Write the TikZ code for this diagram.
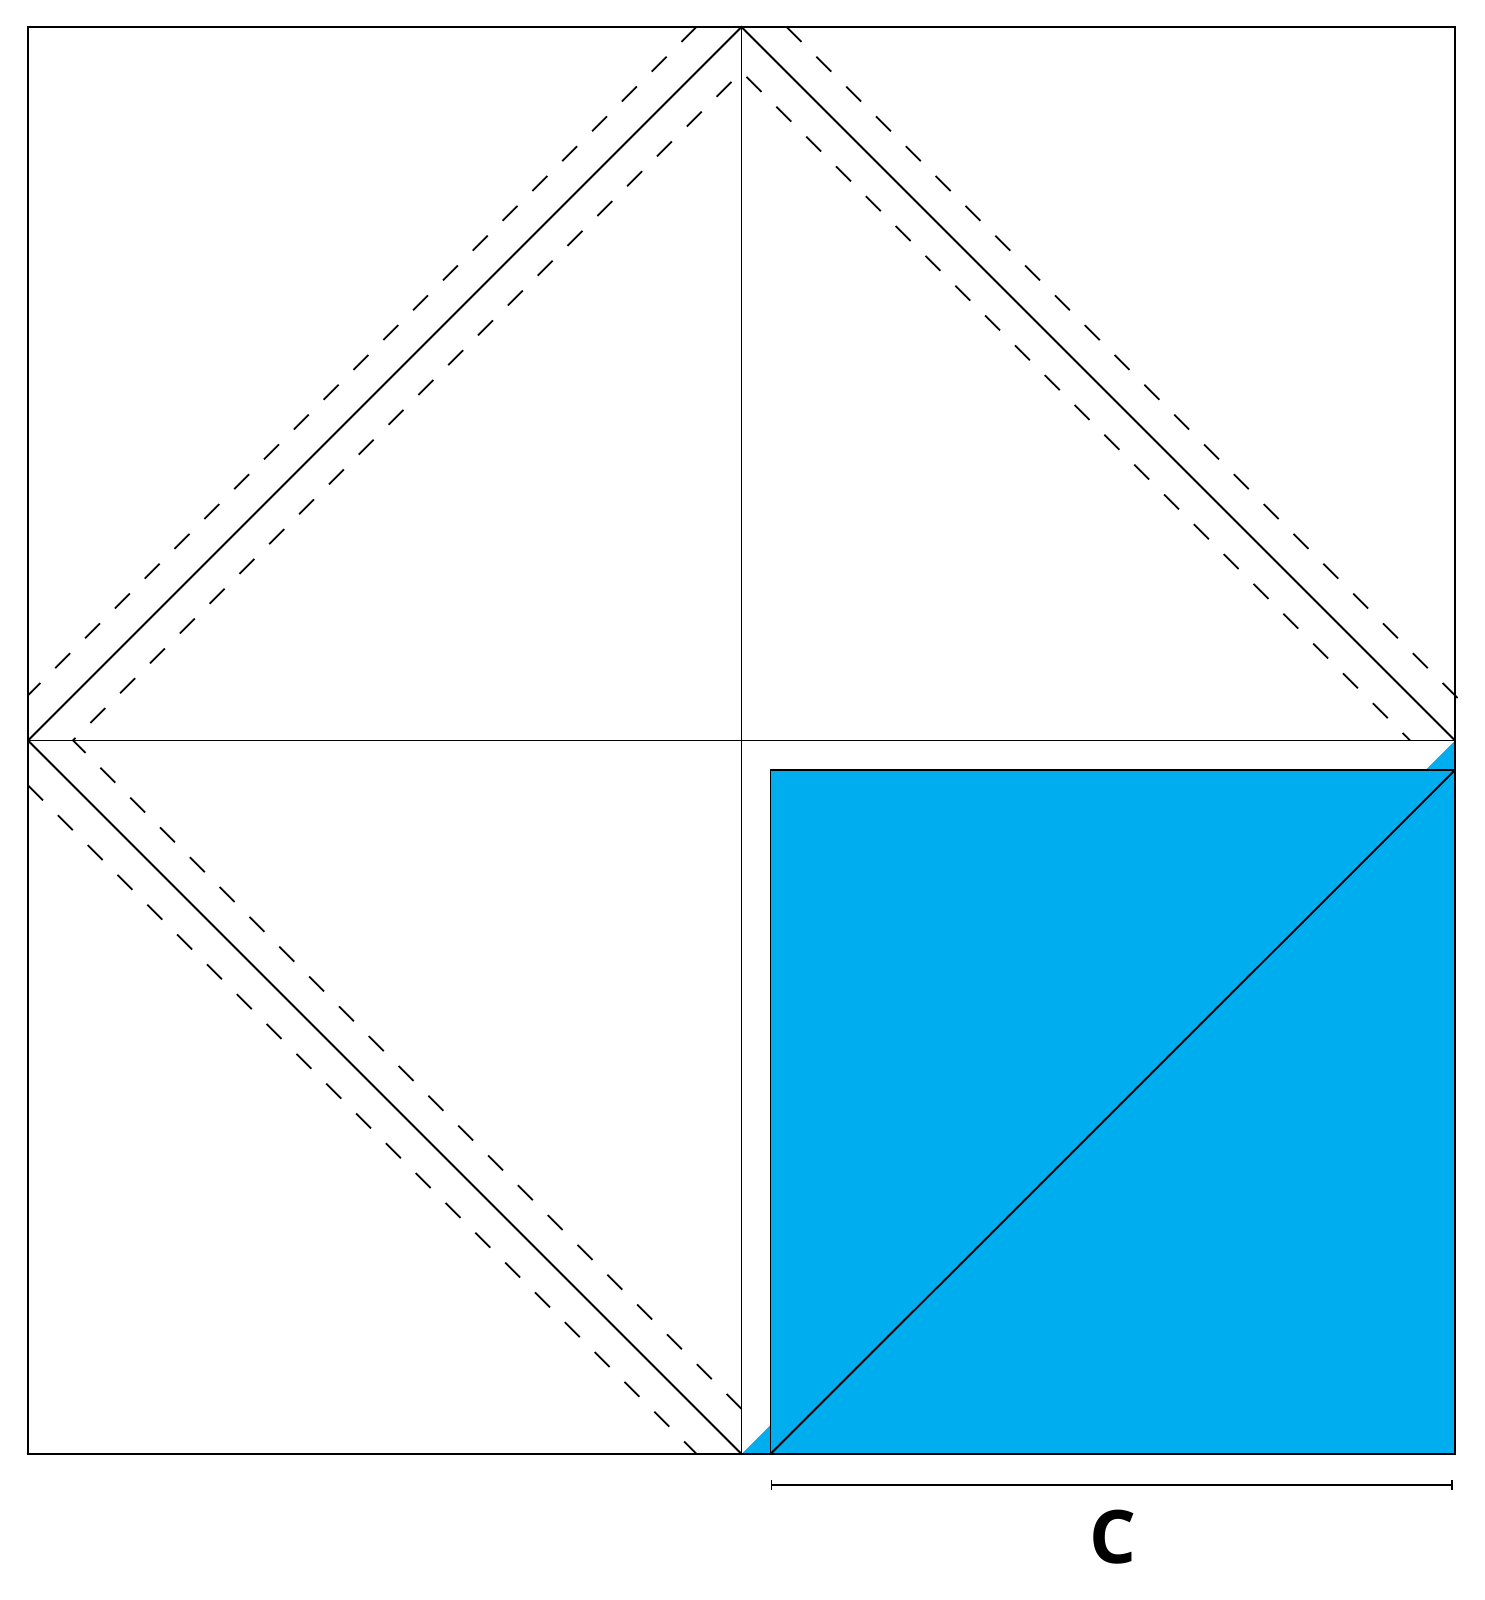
\documentclass[tikz,border=0pt]{standalone}
\usepackage{fontspec}
\setmainfont{Open Sans}
\definecolor{quiltblue}{RGB}{0,174,239}
\tikzset{
  edge/.style={line width=0.55pt},
  seam/.style={line width=0.5pt, dash pattern=on 6pt off 6pt},
}
\begin{document}
\begin{tikzpicture}
  \useasboundingbox (0,0) rectangle (14.85,16);
  % corners and midpoints of the block
  \coordinate (sw) at (0.28,1.46);
  \coordinate (se) at (14.55,1.46);
  \coordinate (ne) at (14.55,15.73);
  \coordinate (n) at (7.415,15.73);
  \coordinate (s) at (7.415,1.46);
  \coordinate (w) at (0.28,8.595);
  \coordinate (e) at (14.55,8.595);
  \coordinate (bsw) at (7.705,1.46);
  \coordinate (bne) at (14.55,8.30);
  \coordinate (dimL) at (7.715,1.15);
  \coordinate (dimR) at (14.52,1.15);
  % blue pieces
  \fill[quiltblue] (s) -- (e) -- (se) -- cycle;
  \draw[edge, fill=quiltblue] (bsw) rectangle (bne);
  \draw[edge] (bsw) -- (bne);
  % block outline
  \draw[edge] (sw) rectangle (ne);
  \draw[edge] (n) -- (s);
  \draw[edge] (w) -- (e);
  \draw[edge] (w) -- (n) -- (e);
  \draw[edge] (w) -- (s);
  % seam lines
  \begin{scope}[seam]
    \draw ([xshift=-0.45cm]n) -- ([yshift=0.45cm]w);
    \draw ([xshift=0.45cm]n) -- ([xshift=0.04cm,yshift=0.41cm]e);
    \draw ([yshift=-0.45cm]w) -- ([xshift=-0.45cm]s);
    \draw ([yshift=0.45cm]s) -- ([xshift=0.45cm]w) -- ([yshift=-0.45cm]n) -- ([xshift=-0.45cm]e);
  \end{scope}
  % size of C
  \draw[edge] (dimL) -- (dimR);
  \draw[edge] ([yshift=-0.05cm]dimL) -- ([yshift=0.05cm]dimL);
  \draw[edge] ([yshift=-0.05cm]dimR) -- ([yshift=0.05cm]dimR);
  \node (lblC) at (11.13,0.63) {\fontsize{21}{21}\selectfont\bfseries C};
\end{tikzpicture}
\end{document}
